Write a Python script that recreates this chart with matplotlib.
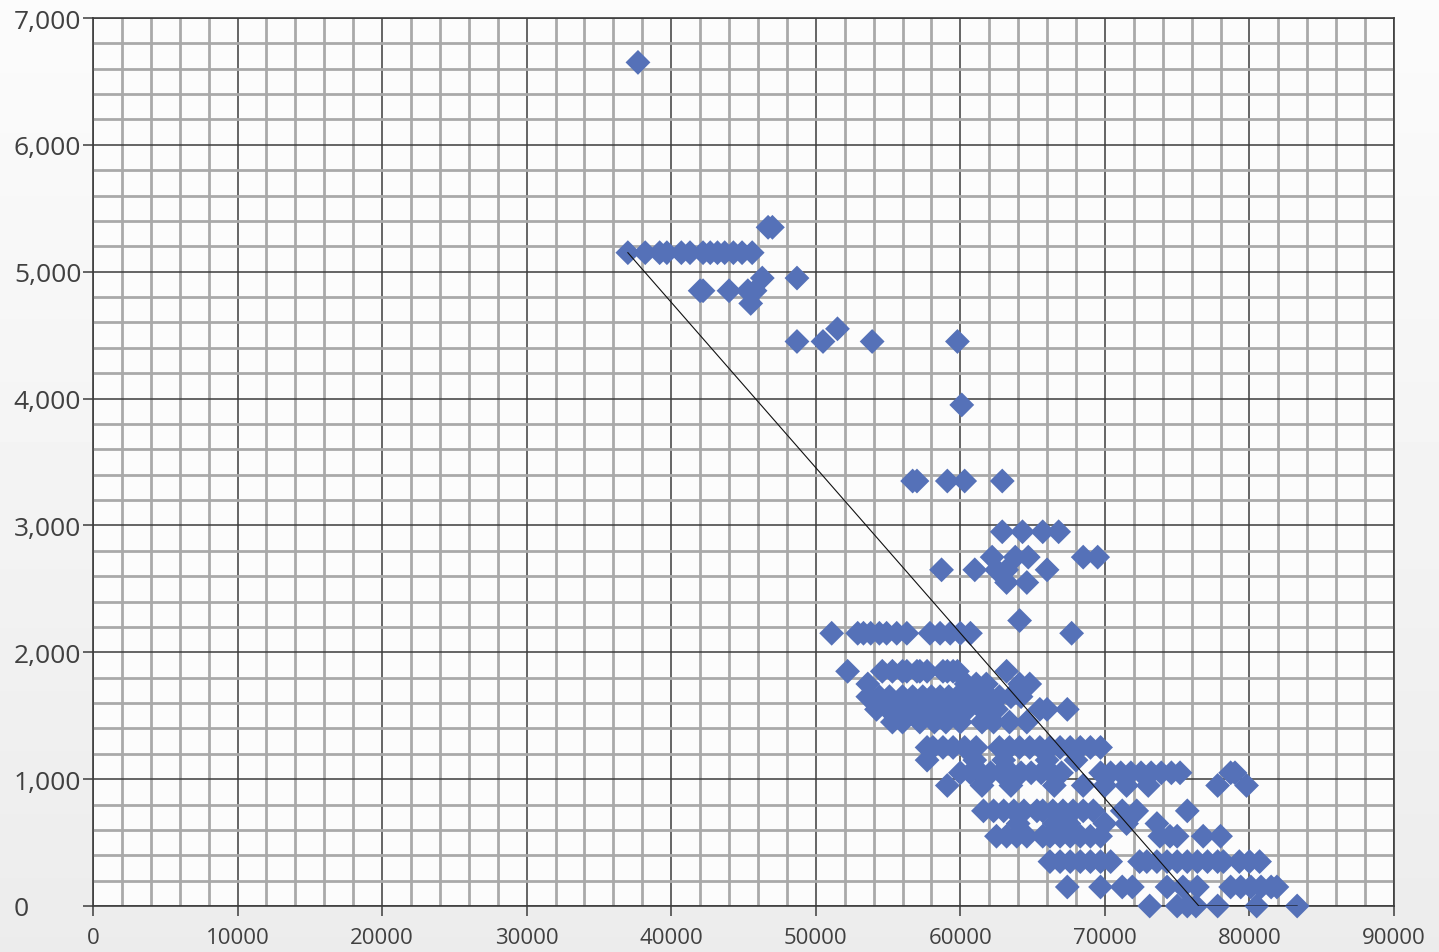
import numpy as np
import matplotlib
matplotlib.use("Agg")
import matplotlib.pyplot as plt
from matplotlib.ticker import MultipleLocator, FuncFormatter

# scatter rows: every row shares one y value, x values
row_6650 = [37700]
row_5350 = [46700, 47000]
row_5150 = [37000, 38200, 39200, 39700, 40700, 41300, 42200, 42700, 43200, 43700, 44300, 44900, 45600]
row_4950 = [46300, 48700]
row_4850 = [42000, 42200, 44000, 45300, 45800]
row_4750 = [45500]
row_4550 = [51500]
row_4450 = [48700, 50500, 53900, 59800]
row_3950 = [60100]
row_3350 = [56700, 57000, 59100, 60300, 62900]
row_2950 = [62900, 64300, 65700, 66800]
row_2750 = [62200, 63800, 64700, 68500, 69500]
row_2650 = [58700, 61000, 62500, 63200, 66000]
row_2550 = [63200, 64600]
row_2250 = [64100]
row_2150 = [51100, 52900, 53300, 53800, 54400, 54900, 55600, 56300, 57900, 58600, 59300, 60000, 60700, 67700]
row_1850 = [52200, 54600, 55300, 56000, 56300, 57000, 57200, 57700, 58800, 59100, 59500, 59800, 63200]
row_1750 = [53600, 60400, 61100, 61800, 64100, 64800]
row_1650 = [53600, 54400, 55100, 56000, 56700, 57400, 58000, 58600, 59200, 59800, 60500, 61200, 62000, 62700, 63500, 64200]
row_1550 = [54200, 55000, 55500, 56500, 57500, 58500, 59500, 60500, 61500, 62500, 65500, 66000, 67400]
row_1450 = [55300, 56000, 57200, 58200, 59000, 60000, 61500, 62300, 63400, 64600]
row_1250 = [57700, 58100, 58800, 59500, 60300, 61100, 62700, 63400, 64100, 64800, 65500, 66200, 66900, 67600, 68300, 69000, 69700]
row_1150 = [57700, 61000, 63000, 66000, 68000]
row_1050 = [60000, 60700, 61400, 62100, 62800, 63500, 64200, 64900, 65600, 66300, 67000, 69700, 70400, 71100,
            71800, 72500, 73200, 73900, 74600, 75200, 78700, 79000]
row_950 = [59100, 61500, 63500, 66500, 68500, 70000, 71500, 73000, 77800, 79800]
row_750 = [61600, 62300, 63000, 63700, 64400, 65300, 65700, 66400, 67100, 67800, 68500, 69200, 71200, 72200, 75700]
row_650 = [64000, 66500, 67500, 70000, 71500, 73600]
row_550 = [62500, 63200, 63900, 64600, 65700, 66200, 66900, 67600, 68300, 69000, 69700, 73800, 74500, 75000, 76800, 78000]
row_350 = [66200, 66900, 67600, 68300, 69000, 69700, 70400, 72400, 72900, 73600, 74300, 75000, 75700, 76400,
           77100, 77800, 78200, 79300, 80000, 80700]
row_150 = [67400, 69700, 71200, 71900, 74300, 75400, 76400, 78700, 79400, 80100, 80800, 81500, 81900]
row_0 = [73100, 75000, 75700, 76300, 77800, 80500, 83300]

levels = [6650, 5350, 5150, 4950, 4850, 4750, 4550, 4450, 3950, 3350, 2950, 2750, 2650, 2550, 2250, 2150,
          1850, 1750, 1650, 1550, 1450, 1250, 1150, 1050, 950, 750, 650, 550, 350, 150, 0]
rows = [row_6650, row_5350, row_5150, row_4950, row_4850, row_4750, row_4550, row_4450, row_3950, row_3350,
        row_2950, row_2750, row_2650, row_2550, row_2250, row_2150, row_1850, row_1750, row_1650, row_1550,
        row_1450, row_1250, row_1150, row_1050, row_950, row_750, row_650, row_550, row_350, row_150, row_0]

# trend line
trend_x = [37000, 76500, 83300]
trend_y = [5150, 0, 0]

x_pts = np.concatenate([np.array(r, dtype=float) for r in rows])
y_pts = np.concatenate([np.full(len(r), lv, dtype=float) for r, lv in zip(rows, levels)])

plt.rcParams['font.family'] = ['Open Sans', 'DejaVu Sans']

fig = plt.figure(figsize=(14.39, 9.53), dpi=100)

# soft grey background behind everything
bg = fig.add_axes([0, 0, 1, 1], zorder=-10)
grad = np.linspace(0.985, 0.925, 256).reshape(-1, 1) * np.ones((1, 64))
bg.imshow(grad, cmap='gray', vmin=0, vmax=1, aspect='auto', extent=[0, 1, 0, 1])
bg.axis('off')

ax = fig.add_axes([93 / 1439, 1 - 907 / 953, (1394 - 93) / 1439, (907 - 19) / 953])
ax.set_facecolor('#fcfcfc')

ax.scatter(x_pts, y_pts, marker='D', s=160, color='#5571b8', edgecolors='none', zorder=3, clip_on=False)
ax.plot(trend_x, trend_y, color='#111111', linewidth=0.8, zorder=4)

ax.set_xlim(0, 90000)
ax.set_ylim(0, 7000)
ax.xaxis.set_major_locator(MultipleLocator(10000))
ax.xaxis.set_minor_locator(MultipleLocator(2000))
ax.yaxis.set_major_locator(MultipleLocator(1000))
ax.yaxis.set_minor_locator(MultipleLocator(200))
ax.yaxis.set_major_formatter(FuncFormatter(lambda v, p: f"{int(v):,}"))

ax.set_axisbelow(True)
ax.grid(which='minor', color='#a9a9a9', linewidth=2.0)
ax.grid(which='major', color='#3c3c3c', linewidth=1.1)

for sp in ax.spines.values():
    sp.set_color('#3c3c3c')
    sp.set_linewidth(1.2)

ax.tick_params(which='minor', length=0)
ax.tick_params(axis='x', which='major', length=7, width=1.1, color='#3c3c3c',
               labelsize=16, labelcolor='#404040', pad=8)
ax.tick_params(axis='y', which='major', length=7, width=1.1, color='#3c3c3c',
               labelsize=19, labelcolor='#404040', pad=50)
for lab in ax.get_yticklabels():
    lab.set_horizontalalignment('left')

fig.savefig('out.png', dpi=100, facecolor='#f2f2f2')
